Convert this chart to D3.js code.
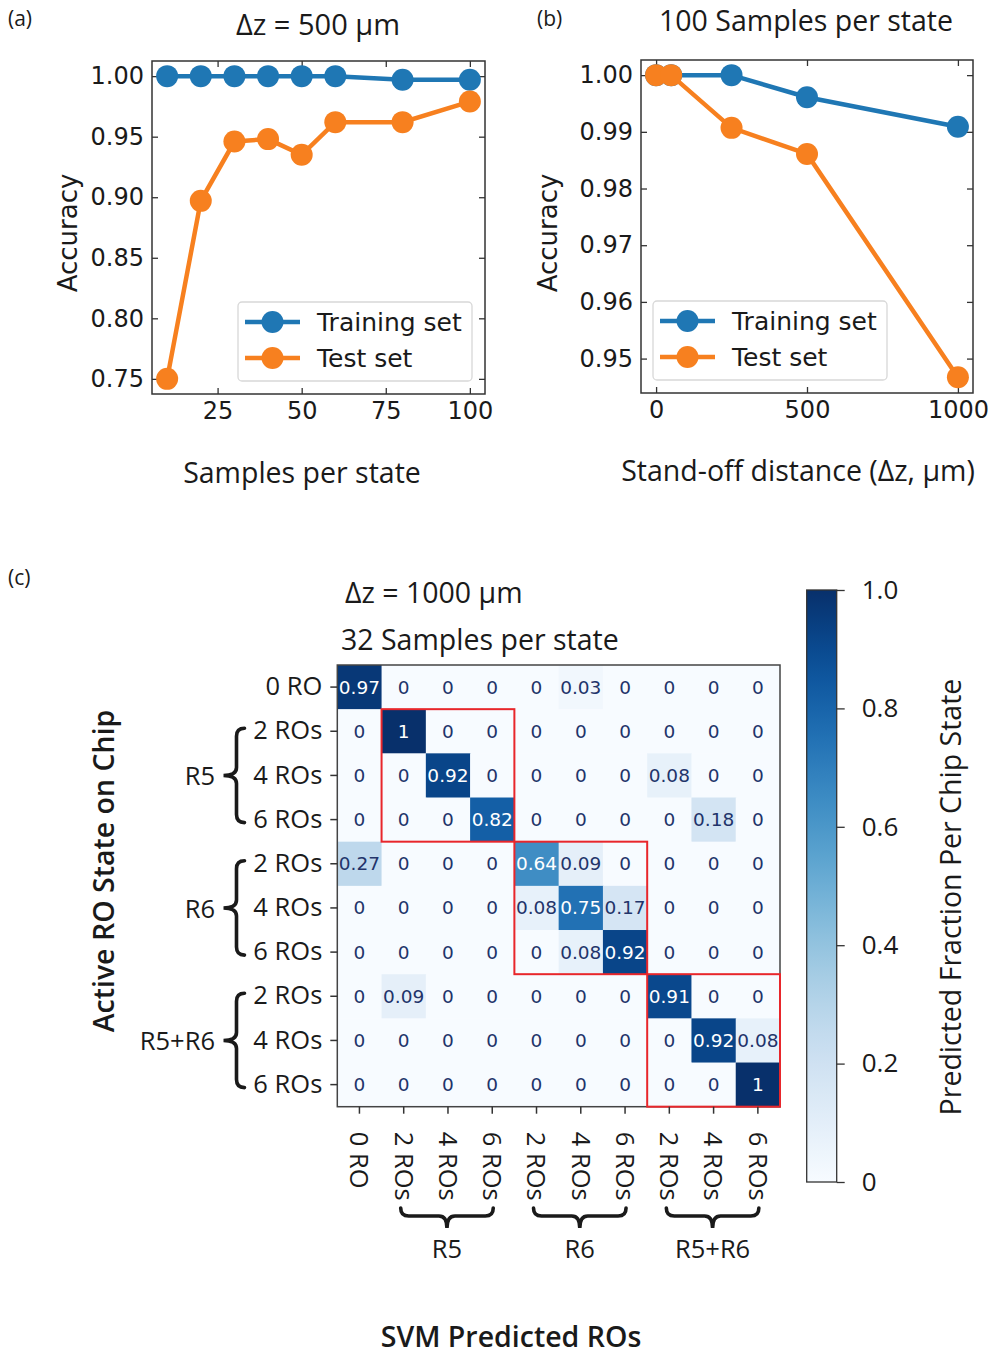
<!DOCTYPE html>
<html>
<head>
<meta charset="utf-8">
<script src="https://cdn.jsdelivr.net/npm/d3@7"></script>
<style>
  body { margin: 0; background: #fff; }
  text { fill: #1a1a1a; }
</style>
</head>
<body>
<script>
// (a) accuracy vs samples per state at dz = 500 um
var samples = [10, 20, 30, 40, 50, 60, 80, 100];
var trainA = [1, 1, 1, 1, 1, 1, 0.997, 0.997];
var testA = [0.75, 0.897, 0.946, 0.948, 0.935, 0.962, 0.962, 0.979];
var ticksAx = [25, 50, 75, 100];
var ticksAy = [0.75, 0.80, 0.85, 0.90, 0.95, 1.00];

// (b) accuracy vs stand-off distance, 100 samples per state
var standoff = [0, 50, 250, 500, 1000];
var trainB = [1, 1, 1, 0.9961, 0.9909];
var testB = [1, 1, 0.9907, 0.9861, 0.9467];
var ticksBx = [0, 500, 1000];
var ticksBy = [0.95, 0.96, 0.97, 0.98, 0.99, 1.00];

// (c) confusion matrix, dz = 1000 um, 32 samples per state
var states = ["0 RO", "2 ROs", "4 ROs", "6 ROs", "2 ROs", "4 ROs", "6 ROs", "2 ROs", "4 ROs", "6 ROs"];
var groupNames = ["R5", "R6", "R5+R6"];
var groupFirst = [1, 4, 7];
var groupLast = [3, 6, 9];
var matrix = [
  [0.97, 0, 0, 0, 0, 0.03, 0, 0, 0, 0],
  [0, 1, 0, 0, 0, 0, 0, 0, 0, 0],
  [0, 0, 0.92, 0, 0, 0, 0, 0.08, 0, 0],
  [0, 0, 0, 0.82, 0, 0, 0, 0, 0.18, 0],
  [0.27, 0, 0, 0, 0.64, 0.09, 0, 0, 0, 0],
  [0, 0, 0, 0, 0.08, 0.75, 0.17, 0, 0, 0],
  [0, 0, 0, 0, 0, 0.08, 0.92, 0, 0, 0],
  [0, 0.09, 0, 0, 0, 0, 0, 0.91, 0, 0],
  [0, 0, 0, 0, 0, 0, 0, 0, 0.92, 0.08],
  [0, 0, 0, 0, 0, 0, 0, 0, 0, 1]
];
var cbTicks = [0, 0.2, 0.4, 0.6, 0.8, 1];
var cbTickLabels = ["0", "0.2", "0.4", "0.6", "0.8", "1.0"];

var BLUE = "#1f77b4", ORANGE = "#f7801f";
var SANS = "'Open Sans', 'Noto Sans', sans-serif";
var DV = "'DejaVu Sans', sans-serif";

var svg = d3.select("body").append("svg")
  .attr("width", 992).attr("height", 1354);

function label(txt, x, y, size, opts) {
  opts = opts || {};
  var t = svg.append("text").attr("x", x).attr("y", y)
    .style("font-family", opts.family || SANS)
    .style("font-size", size + "px")
    .style("font-weight", opts.weight || 400)
    .attr("text-anchor", opts.anchor || "middle")
    .text(txt);
  if (opts.rotate) t.attr("transform", "rotate(" + opts.rotate + "," + x + "," + y + ")");
  if (opts.central) t.attr("dominant-baseline", "central");
  return t;
}

function linePanel(p) {
  var x = d3.scaleLinear().domain(p.xDomain).range([p.left, p.right]);
  var y = d3.scaleLinear().domain(p.yDomain).range([p.bottom, p.top]);
  var g = svg.append("g");

  function styleAxis(a, show) {
    a.select(".domain").remove();
    a.selectAll(".tick line").attr("stroke", "#333").attr("stroke-width", 1.3);
    a.selectAll(".tick text").style("font-family", DV).style("font-size", "24px").attr("fill", "#1a1a1a");
    if (!show) a.selectAll(".tick text").remove();
  }
  g.append("g").attr("transform", "translate(0," + p.bottom + ")")
    .call(d3.axisBottom(x).tickValues(p.xTicks).tickSize(-6).tickPadding(8).tickFormat(d3.format("d")))
    .call(styleAxis, true);
  g.append("g").attr("transform", "translate(0," + p.top + ")")
    .call(d3.axisTop(x).tickValues(p.xTicks).tickSize(-6))
    .call(styleAxis, false);
  g.append("g").attr("transform", "translate(" + p.left + ",0)")
    .call(d3.axisLeft(y).tickValues(p.yTicks).tickSize(-6).tickPadding(8).tickFormat(d3.format(p.yFmt)))
    .call(styleAxis, true);
  g.append("g").attr("transform", "translate(" + p.right + ",0)")
    .call(d3.axisRight(y).tickValues(p.yTicks).tickSize(-6))
    .call(styleAxis, false);

  g.append("rect").attr("x", p.left).attr("y", p.top)
    .attr("width", p.right - p.left).attr("height", p.bottom - p.top)
    .attr("fill", "none").attr("stroke", "#333").attr("stroke-width", 1.5);

  var line = d3.line().x(function (d) { return x(d[0]); }).y(function (d) { return y(d[1]); });
  [[p.train, BLUE], [p.test, ORANGE]].forEach(function (s) {
    var pts = p.xs.map(function (v, i) { return [v, s[0][i]]; });
    g.append("path").datum(pts).attr("d", line)
      .attr("fill", "none").attr("stroke", s[1]).attr("stroke-width", 4.5);
    g.selectAll(null).data(pts).enter().append("circle")
      .attr("cx", function (d) { return x(d[0]); })
      .attr("cy", function (d) { return y(d[1]); })
      .attr("r", 11).attr("fill", s[1]);
  });

  // legend
  var L = p.legend;
  g.append("rect").attr("x", L.x).attr("y", L.y).attr("width", 234).attr("height", 79)
    .attr("rx", 4).attr("fill", "#fff").attr("fill-opacity", 0.85)
    .attr("stroke", "#d8d8d8").attr("stroke-width", 1.3);
  [["Training set", BLUE], ["Test set", ORANGE]].forEach(function (e, i) {
    var yy = L.y + 20 + i * 36;
    g.append("line").attr("x1", L.x + 7).attr("x2", L.x + 62).attr("y1", yy).attr("y2", yy)
      .attr("stroke", e[1]).attr("stroke-width", 4.5);
    g.append("circle").attr("cx", L.x + 34.5).attr("cy", yy).attr("r", 11).attr("fill", e[1]);
    g.append("text").attr("x", L.x + 79).attr("y", yy).attr("dominant-baseline", "central")
      .style("font-family", DV).style("font-size", "25px").text(e[0]);
  });
}

// ---- (a)
linePanel({
  left: 152, right: 485, top: 61, bottom: 394,
  xDomain: [5.5, 104.5], yDomain: [0.7375, 1.0125],
  xTicks: ticksAx, yTicks: ticksAy, yFmt: ".2f",
  xs: samples, train: trainA, test: testA,
  legend: { x: 238, y: 302 }
});
label("(a)", 8, 26, 21, { anchor: "start" });
label("\u0394z = 500 \u03bcm", 318, 35, 29);
label("Samples per state", 302, 483, 28.5);
label("Accuracy", 68, 233, 26, { family: DV, rotate: -90, central: true });

// ---- (b)
linePanel({
  left: 641, right: 973, top: 60, bottom: 393,
  xDomain: [-50, 1050], yDomain: [0.94393, 1.00267],
  xTicks: ticksBx, yTicks: ticksBy, yFmt: ".2f",
  xs: standoff, train: trainB, test: testB,
  legend: { x: 653, y: 301 }
});
label("(b)", 537, 26, 21, { anchor: "start" });
label("100 Samples per state", 806, 31, 28.5);
label("Stand-off distance (\u0394z, \u03bcm)", 798, 481, 28.5);
label("Accuracy", 548, 233, 26, { family: DV, rotate: -90, central: true });

// ---- (c) heatmap
var hx = d3.scaleBand().domain(d3.range(states.length)).range([337.3, 780]);
var hy = d3.scaleBand().domain(d3.range(states.length)).range([665, 1106.7]);
var color = d3.scaleSequential(d3.interpolateBlues).domain([0, 1]);
var fmt = d3.format("~g");

var cells = [];
matrix.forEach(function (row, i) { row.forEach(function (v, j) { cells.push({ r: i, c: j, v: v }); }); });

var hm = svg.append("g");
hm.selectAll("rect.cell").data(cells).enter().append("rect").attr("class", "cell")
  .attr("x", function (d) { return hx(d.c); }).attr("y", function (d) { return hy(d.r); })
  .attr("width", hx.bandwidth() + 0.5).attr("height", hy.bandwidth() + 0.5)
  .attr("fill", function (d) { return color(d.v); });
hm.selectAll("text.ann").data(cells).enter().append("text").attr("class", "ann")
  .attr("x", function (d) { return hx(d.c) + hx.bandwidth() / 2; })
  .attr("y", function (d) { return hy(d.r) + hy.bandwidth() / 2; })
  .attr("text-anchor", "middle").attr("dominant-baseline", "central")
  .style("font-family", DV).style("font-size", "18.5px")
  .style("fill", function (d) { return d.v > 0.5 ? "#fff" : "#22346a"; })
  .text(function (d) { return fmt(d.v); });

hm.append("rect").attr("x", 337.3).attr("y", 665).attr("width", 780 - 337.3).attr("height", 1106.7 - 665)
  .attr("fill", "none").attr("stroke", "#444").attr("stroke-width", 1.5);

// red group boxes
groupNames.forEach(function (n, k) {
  var x0 = hx(groupFirst[k]), x1 = hx(groupLast[k]) + hx.bandwidth();
  var y0 = hy(groupFirst[k]), y1 = hy(groupLast[k]) + hy.bandwidth();
  hm.append("rect").attr("x", x0).attr("y", y0).attr("width", x1 - x0).attr("height", y1 - y0)
    .attr("fill", "none").attr("stroke", "#e8262b").attr("stroke-width", 2);
});

// axes
var ax = svg.append("g").attr("transform", "translate(337.3,0)")
  .call(d3.axisLeft(hy).tickSize(7).tickPadding(8).tickFormat(function (i) { return states[i]; }));
ax.select(".domain").remove();
ax.selectAll(".tick line").attr("stroke", "#333").attr("stroke-width", 1.5);
ax.selectAll(".tick text").style("font-family", SANS).style("font-size", "25.5px").attr("fill", "#1a1a1a");

var bx = svg.append("g").attr("transform", "translate(0,1106.7)")
  .call(d3.axisBottom(hx).tickSize(7).tickFormat(function (i) { return states[i]; }));
bx.select(".domain").remove();
bx.selectAll(".tick line").attr("stroke", "#333").attr("stroke-width", 1.5);
bx.selectAll(".tick text").style("font-family", SANS).style("font-size", "25.5px").attr("fill", "#1a1a1a")
  .attr("transform", "rotate(90)").attr("x", 25).attr("y", 0).attr("dy", "0.36em")
  .attr("text-anchor", "start");

// curly braces
function vBrace(s, y1, y2) {
  var ym = (y1 + y2) / 2, r = 8, h = s + 8, t = s - 13;
  return "M" + h + "," + y1 + "Q" + s + "," + y1 + " " + s + "," + (y1 + r) +
    "L" + s + "," + (ym - r) + "Q" + s + "," + ym + " " + t + "," + ym +
    "Q" + s + "," + ym + " " + s + "," + (ym + r) +
    "L" + s + "," + (y2 - r) + "Q" + s + "," + y2 + " " + h + "," + y2;
}
function hBrace(s, x1, x2) {
  var xm = (x1 + x2) / 2, r = 8, h = s - 8, t = s + 12;
  return "M" + x1 + "," + h + "Q" + x1 + "," + s + " " + (x1 + r) + "," + s +
    "L" + (xm - r) + "," + s + "Q" + xm + "," + s + " " + xm + "," + t +
    "Q" + xm + "," + s + " " + (xm + r) + "," + s +
    "L" + (x2 - r) + "," + s + "Q" + x2 + "," + s + " " + x2 + "," + h;
}
groupNames.forEach(function (n, k) {
  var yc1 = hy(groupFirst[k]) + hy.bandwidth() / 2 - 3;
  var yc2 = hy(groupLast[k]) + hy.bandwidth() / 2 + 3;
  svg.append("path").attr("d", vBrace(236.5, yc1, yc2))
    .attr("fill", "none").attr("stroke", "#1a1a1a").attr("stroke-width", 3.6).attr("stroke-linecap", "round");
  label(n, 215, (yc1 + yc2) / 2, 25.5, { anchor: "end", central: true });

  var xc1 = hx(groupFirst[k]) + hx.bandwidth() / 2 - 3;
  var xc2 = hx(groupLast[k]) + hx.bandwidth() / 2 + 1;
  svg.append("path").attr("d", hBrace(1216, xc1, xc2))
    .attr("fill", "none").attr("stroke", "#1a1a1a").attr("stroke-width", 3.6).attr("stroke-linecap", "round");
  label(n, (xc1 + xc2) / 2, 1258, 25.5);
});

// colorbar
var cbY = d3.scaleLinear().domain([0, 1]).range([1182, 590]);
var grad = svg.append("defs").append("linearGradient").attr("id", "cb")
  .attr("x1", 0).attr("y1", 1).attr("x2", 0).attr("y2", 0);
d3.range(0, 1.0001, 0.05).forEach(function (t) {
  grad.append("stop").attr("offset", t).attr("stop-color", color(t));
});
svg.append("rect").attr("x", 806.7).attr("y", 590).attr("width", 30).attr("height", 592)
  .attr("fill", "url(#cb)").attr("stroke", "#333").attr("stroke-width", 1.3);
var cb = svg.append("g").attr("transform", "translate(836.7,0)")
  .call(d3.axisRight(cbY).tickValues(cbTicks).tickSize(8).tickPadding(17)
    .tickFormat(function (d, i) { return cbTickLabels[i]; }));
cb.select(".domain").remove();
cb.selectAll(".tick line").attr("stroke", "#333").attr("stroke-width", 1.3);
cb.selectAll(".tick text").style("font-family", SANS).style("font-size", "26px").attr("fill", "#1a1a1a");

label("Predicted Fraction Per Chip State", 950, 897, 28.5, { rotate: -90, central: true });

label("(c)", 8, 585, 21, { anchor: "start" });
label("\u0394z = 1000 \u03bcm", 345, 603, 28.5, { anchor: "start" });
label("32 Samples per state", 341, 650, 28.5, { anchor: "start" });
label("Active RO State on Chip", 103, 871, 28.5, { weight: 600, rotate: -90, central: true });
label("SVM Predicted ROs", 511, 1347, 28.5, { weight: 600 });
</script>
</body>
</html>
